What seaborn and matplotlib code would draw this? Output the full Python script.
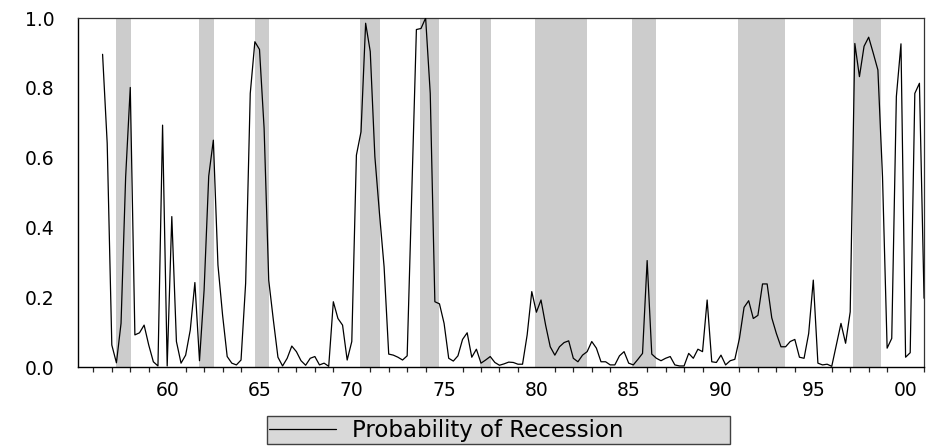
#recession probability chart, quarterly data with shaded recession periods
import numpy as np
import pandas as pd
import seaborn as sns
import matplotlib.pyplot as plt
from matplotlib.ticker import FixedLocator

#quarterly sample 1956Q3 - 2001Q1
first_quarter = '1956Q3'
last_quarter = '2001Q1'

prob_recession = [
    0.896, 0.641, 0.063, 0.012, 0.125, 0.545, 0.801, 0.092, 0.098, 0.120,
    0.063, 0.015, 0.003, 0.693, 0.003, 0.431, 0.073, 0.011, 0.034, 0.106,
    0.242, 0.018, 0.221, 0.547, 0.650, 0.292, 0.149, 0.030, 0.011, 0.006,
    0.020, 0.240, 0.784, 0.932, 0.910, 0.684, 0.249, 0.135, 0.028, 0.003,
    0.025, 0.060, 0.044, 0.018, 0.005, 0.025, 0.030, 0.006, 0.011, 0.002,
    0.187, 0.139, 0.120, 0.020, 0.073, 0.607, 0.674, 0.985, 0.904, 0.603,
    0.440, 0.287, 0.037, 0.034, 0.028, 0.020, 0.032, 0.500, 0.967, 0.970,
    1.000, 0.784, 0.187, 0.181, 0.125, 0.025, 0.017, 0.032, 0.079, 0.098,
    0.028, 0.051, 0.011, 0.020, 0.030, 0.013, 0.005, 0.009, 0.014, 0.013,
    0.008, 0.008, 0.092, 0.216, 0.157, 0.192, 0.120, 0.058, 0.034, 0.058,
    0.070, 0.075, 0.025, 0.015, 0.034, 0.044, 0.073, 0.054, 0.015, 0.015,
    0.006, 0.006, 0.032, 0.044, 0.011, 0.006, 0.022, 0.039, 0.305, 0.037,
    0.025, 0.018, 0.025, 0.030, 0.006, 0.003, 0.003, 0.039, 0.025, 0.051,
    0.044, 0.192, 0.015, 0.013, 0.034, 0.006, 0.018, 0.022, 0.082, 0.171,
    0.190, 0.139, 0.148, 0.238, 0.238, 0.141, 0.096, 0.058, 0.058, 0.073,
    0.079, 0.028, 0.025, 0.096, 0.249, 0.011, 0.006, 0.008, 0.002, 0.063,
    0.125, 0.068, 0.158, 0.927, 0.832, 0.919, 0.945, 0.899, 0.851, 0.545,
    0.054, 0.082, 0.775, 0.926, 0.028, 0.041, 0.784, 0.813, 0.197,
]

#shaded recession periods (start, end) in years
recession_start = [1957.22, 1961.70, 1964.73, 1970.44, 1973.69, 1976.93, 1979.95, 1985.20, 1990.93, 1997.14]
recession_end = [1958.03, 1962.51, 1965.54, 1971.53, 1974.73, 1977.52, 1982.76, 1986.50, 1993.45, 1998.69]

major_years = [1960, 1965, 1970, 1975, 1980, 1985, 1990, 1995, 2000]
major_labels = ['60', '65', '70', '75', '80', '85', '90', '95', '00']
minor_years = list(range(1956, 2002))
y_ticks = [0.0, 0.2, 0.4, 0.6, 0.8, 1.0]
y_labels = ['0.0', '0.2', '0.4', '0.6', '0.8', '1.0']

#build the dataframe
quarters = pd.period_range(first_quarter, last_quarter, freq='Q')
df = pd.DataFrame({
    'date': quarters.year + (quarters.quarter - 1) / 4.0,
    'prob': prob_recession,
})

sns.set_style('white')
plt.rcParams['font.family'] = ['DejaVu Sans']
plt.rcParams['text.color'] = 'black'

fig = plt.figure(figsize=(9.3, 4.48), dpi=100)
ax = fig.add_axes([0.0839, 0.1808, 0.9097, 0.779])

for s, e in zip(recession_start, recession_end):
    ax.axvspan(s, e, color='#cccccc', lw=0, zorder=0)

sns.lineplot(data=df, x='date', y='prob', color='black', lw=0.9,
             label='Probability of Recession', legend=False, ax=ax, zorder=3)

ax.set_xlim(1955.17, 2001.0)
ax.set_ylim(0, 1)
ax.set_xlabel('')
ax.set_ylabel('')

ax.xaxis.set_major_locator(FixedLocator(major_years))
ax.set_xticklabels(major_labels)
ax.xaxis.set_minor_locator(FixedLocator(minor_years))
ax.set_yticks(y_ticks)
ax.set_yticklabels(y_labels)

ax.tick_params(axis='x', which='major', direction='out', length=8, width=0.9,
               labelsize=13.5, pad=2, colors='black')
ax.tick_params(axis='x', which='minor', direction='out', length=3.5, width=0.9,
               bottom=True)
ax.tick_params(axis='y', which='major', direction='out', length=8, width=0.9,
               labelsize=13.5, pad=9, colors='black')

for side in ['left', 'bottom']:
    ax.spines[side].set_color('black')
    ax.spines[side].set_linewidth(1.0)
for side in ['top', 'right']:
    ax.spines[side].set_color('#333333')
    ax.spines[side].set_linewidth(0.9)

#legend box under the chart, stretched to the width of the original box
handles, labels = ax.get_legend_handles_labels()
leg = fig.legend(handles, labels, loc='lower left', mode='expand',
                 bbox_to_anchor=(0.287, 0.009, 0.498, 0.058),
                 fontsize=16.5, frameon=True, fancybox=False, framealpha=1,
                 facecolor='#d9d9d9', edgecolor='#404040', handlelength=2.9,
                 handletextpad=0.7, borderpad=0.1, borderaxespad=0)
leg.get_frame().set_linewidth(1.0)
for line in leg.get_lines():
    line.set_linewidth(0.9)

fig.savefig('out.png', dpi=100)
